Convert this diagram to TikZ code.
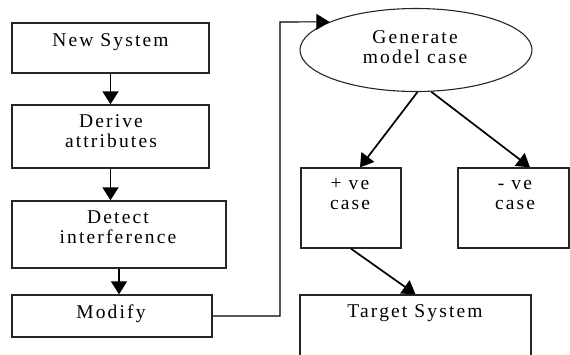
\documentclass[tikz,border=0pt]{standalone}
\usepackage{fontspec}
\setmainfont{Liberation Serif}[LetterSpace=11]
\usetikzlibrary{arrows.meta,shapes.geometric,calc}
\begin{document}
\begin{tikzpicture}[x=1pt,y=-1pt,
 box/.style={draw=black!85, line width=1.4pt, inner sep=0pt},
 lbl/.style={font=\fontsize{19.5}{20}\selectfont, align=center, inner sep=0pt, anchor=base},
 tip/.style={-{Triangle[length=13pt,width=16pt]}},
 arr/.style={line width=1.7pt, tip},
 thin/.style={line width=1.1pt},
]
\useasboundingbox (0,0) rectangle (570,354);
\node[box, minimum width=197pt, minimum height=50pt] (ns) at (110.5,48) {};
\node[box, minimum width=197pt, minimum height=63pt] (da) at (110.5,136.5) {};
\node[box, minimum width=214pt, minimum height=67pt] (di) at (119,234.5) {};
\node[box, minimum width=200pt, minimum height=42pt] (mo) at (112,316) {};
\node[box, ellipse, line width=1.1pt, minimum width=232pt, minimum height=83pt] (el) at (416,50) {};
\node[box, minimum width=100pt, minimum height=80pt] (pv) at (351,208) {};
\node[box, minimum width=111pt, minimum height=80pt] (nv) at (513.5,208) {};
\node[box, minimum width=231pt, minimum height=61pt] (ts) at (415.5,325.5) {};

\node[lbl] (t1) at (110.5,46) {New System};
\node[lbl] (t2) at (111,147.5) {Derive\\attributes};
\node[lbl] (t3) at (118,243) {Detect\\interference};
\node[lbl] (t4) at (111,318) {Modify};
\node[lbl] (t5) at (415,63) {Generate\\model case};
\node[lbl] (t6) at (350,209.5) {+ ve\\case};
\node[lbl] (t7) at (515,209.5) {- ve\\case};
\node[lbl] (t8) at (415,317) {Target System};

\draw[arr] (ns.south) -- (da.north);
\draw[arr] (da.south) -- (da.south |- di.north);
\draw[arr] (di.south) -- (di.south |- mo.north);
\coordinate (c1) at (280,316);
\coordinate (c2) at (280,22);
\draw[thin, tip] (mo.east) -- (c1) -- (c2) -- (el.162);
\draw[arr] (el.272) -- ($(pv.north)+(9,0)$);
\draw[arr] (el.290) -- ($(nv.north)+(16.5,0)$);
\draw[arr] (pv.south) -- (ts.north);
\end{tikzpicture}
\end{document}
